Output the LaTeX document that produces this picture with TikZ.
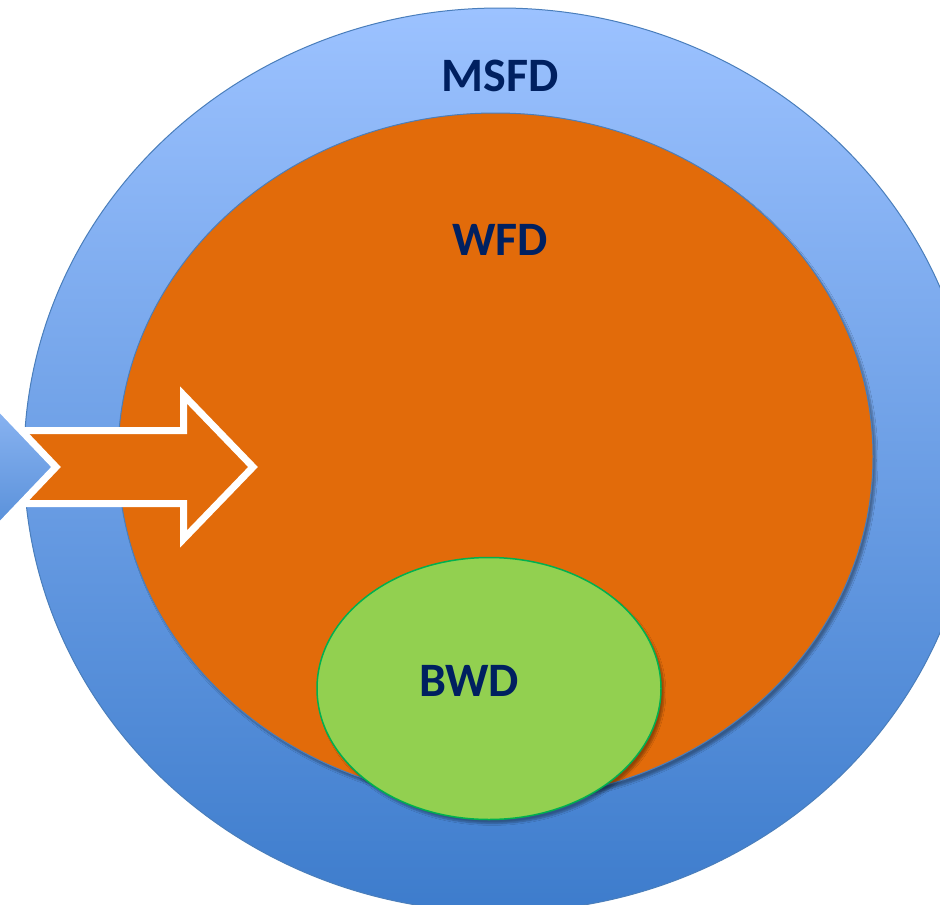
\documentclass[tikz,border=0pt]{standalone}
\usepackage{fontspec}
\setmainfont{Carlito}
\usetikzlibrary{shadows.blur}
\definecolor{navy}{HTML}{002060}
\definecolor{orangefill}{HTML}{E26B0A}
\definecolor{greenfill}{HTML}{92D050}
\definecolor{greenline}{HTML}{00B050}
\definecolor{ringline}{HTML}{4A7EBB}
\definecolor{ringtop}{HTML}{9CC2FF}
\definecolor{ringbot}{HTML}{3D7CCC}
\tikzset{
  lbl/.style={font=\fontsize{48}{52}\selectfont\bfseries, text=navy, inner sep=0pt},
  whiteedge/.style={draw=white, line width=7pt, line join=miter, miter limit=10}
}
\begin{document}
\begin{tikzpicture}[x=1pt,y=-1pt]
\useasboundingbox (0,0) rectangle (940,905);
\clip (0,0) rectangle (940,905);
% outer ring
\path[draw=ringline, line width=1pt, top color=ringtop, bottom color=ringbot]
  (500,460) ellipse [x radius=476, y radius=452];
% WFD
\path[fill=orangefill, draw=ringline, line width=1pt,
  blur shadow={shadow xshift=3pt, shadow yshift=-4pt, shadow opacity=35, shadow blur steps=6, shadow blur extra rounding=0pt}]
  (495.5,456.5) ellipse [x radius=377.5, y radius=343.5];
% arrow
\path[fill=orangefill, whiteedge]
  (-30,430.5) -- (183.5,430.5) -- (183.5,395) -- (253,467) -- (183.5,539) -- (183.5,503.5) -- (-30,503.5) -- cycle;
% blue arrow head at left
\path[whiteedge, top color=ringtop!90!white, bottom color=ringbot]
  (-66,339) -- (56,467) -- (-66,595) -- cycle;
% BWD
\path[fill=greenfill, draw=greenline, line width=1.5pt,
  blur shadow={shadow xshift=3pt, shadow yshift=-4pt, shadow opacity=35, shadow blur steps=6, shadow blur extra rounding=0pt}]
  (489,688.5) ellipse [x radius=172, y radius=131];
% labels
\node[lbl] (msfd) at (500,76) {MSFD};
\node[lbl] (wfd) at (500,240) {WFD};
\node[lbl] (bwd) at (469,681) {BWD};
\end{tikzpicture}
\end{document}
